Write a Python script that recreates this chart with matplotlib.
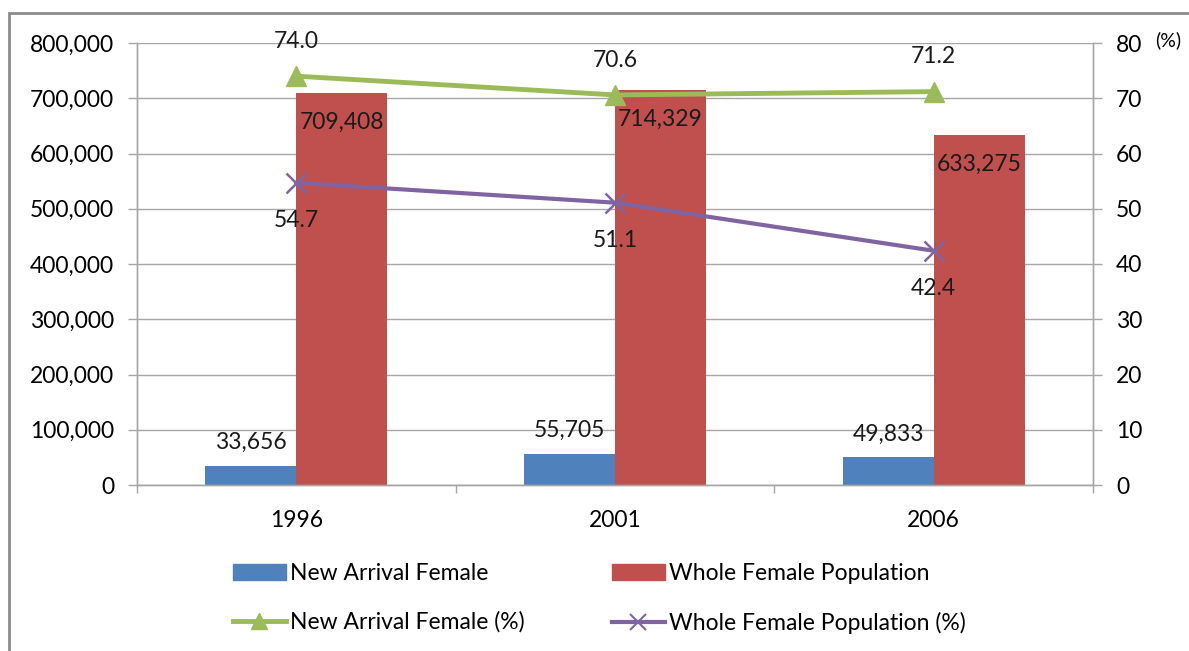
#!/usr/bin/env python3
import matplotlib

matplotlib.use("Agg")
import matplotlib.pyplot as plt
from matplotlib.lines import Line2D
from matplotlib.patches import Patch, Rectangle
from matplotlib.ticker import FuncFormatter, FixedLocator

# chart data
years = ["1996", "2001", "2006"]
new_arrival_female = [33656, 55705, 49833]
whole_female = [709408, 714329, 633275]
new_arrival_pct = [74.0, 70.6, 71.2]
whole_female_pct = [54.7, 51.1, 42.4]

BLUE = "#4F81BD"
RED = "#C0504D"
GREEN = "#9BBB59"
PURPLE = "#8064A2"
GRID = "#A6A6A6"
FS = 16.5

plt.rcParams["font.family"] = ["Lato", "DejaVu Sans"]
plt.rcParams["font.size"] = FS

fig = plt.figure(figsize=(11.89, 6.51), dpi=100)
ax = fig.add_axes([137 / 1189, 1 - 485 / 651, (1093 - 137) / 1189, (485 - 43) / 651])
ax2 = ax.twinx()

# outer chart border (only left/top visible in the reference)
fig.patches.append(Rectangle((9 / 1189, -0.1), 1.2, 1 - 13 / 651 + 0.1,
                             transform=fig.transFigure, fill=False,
                             edgecolor="#8C8C8C", linewidth=2))

x = list(range(len(years)))
bw = 1 / 3.5
blue_x = [i - bw / 2 for i in x]
red_x = [i + bw / 2 for i in x]
ax.bar(blue_x, new_arrival_female, width=bw, color=BLUE, zorder=2)
ax.bar(red_x, whole_female, width=bw, color=RED, zorder=2)

for xi, v in zip(blue_x, new_arrival_female):
    ax.annotate(f"{v:,}", (xi, v), xytext=(0, 17), textcoords="offset points",
                ha="center", va="center", color="#1a1a1a")
for xi, v in zip(red_x, whole_female):
    ax.annotate(f"{v:,}", (xi, v), xytext=(0, -21), textcoords="offset points",
                ha="center", va="center", color="#1a1a1a")

ax2.plot(x, new_arrival_pct, color=GREEN, linewidth=3.5, marker="^",
         markersize=14, zorder=3)
ax2.plot(x, whole_female_pct, color=PURPLE, linewidth=3, marker="x",
         markersize=14, markeredgewidth=1.8, zorder=3)
for xi, v in zip(x, new_arrival_pct):
    ax2.annotate(f"{v:.1f}", (xi, v), xytext=(0, 25), textcoords="offset points",
                 ha="center", va="center", color="#1a1a1a")
for xi, v in zip(x, whole_female_pct):
    ax2.annotate(f"{v:.1f}", (xi, v), xytext=(0, -27), textcoords="offset points",
                 ha="center", va="center", color="#1a1a1a")

ax.set_xlim(-0.5, 2.5)
ax.set_ylim(0, 800000)
ax2.set_ylim(0, 80)
ax.set_yticks(range(0, 800001, 100000))
ax2.set_yticks(range(0, 81, 10))
ax.yaxis.set_major_formatter(FuncFormatter(lambda v, p: f"{int(v):,}"))

ax.set_xticks(x)
ax.set_xticklabels(years)
ax.xaxis.set_minor_locator(FixedLocator([-0.5, 0.5, 1.5, 2.5]))
ax.tick_params(axis="x", which="major", length=0, pad=18, labelsize=FS)
ax.tick_params(axis="x", which="minor", length=6, width=1, color=GRID)
ax.tick_params(axis="y", length=6.5, width=1, color=GRID, pad=10, labelsize=FS)
ax2.tick_params(axis="y", length=6.5, width=1, color=GRID, pad=10, labelsize=FS)

ax.grid(axis="y", color=GRID, linewidth=1, zorder=0)
ax.set_axisbelow(True)
for a in (ax, ax2):
    a.spines["top"].set_visible(False)
    for s in ("left", "right", "bottom"):
        a.spines[s].set_color(GRID)
        a.spines[s].set_linewidth(1)

fig.text(1168 / 1189, 1 - 40 / 651, "(%)", ha="center", va="center", fontsize=14)

handles = [
    Patch(color=BLUE, label="New Arrival Female"),
    Line2D([], [], color=GREEN, linewidth=3.5, marker="^", markersize=12,
           label="New Arrival Female (%)"),
    Patch(color=RED, label="Whole Female Population"),
    Line2D([], [], color=PURPLE, linewidth=3, marker="x", markersize=12,
           markeredgewidth=1.5, label="Whole Female Population (%)"),
]
fig.legend(handles=handles, ncol=2, loc="upper left",
           bbox_to_anchor=(233 / 1189, 1 - 563 / 651), frameon=False,
           fontsize=FS, handlelength=2.3, handletextpad=0.2,
           columnspacing=3.8, labelspacing=1.2, borderpad=0, borderaxespad=0)

fig.savefig("out.png", dpi=100)
